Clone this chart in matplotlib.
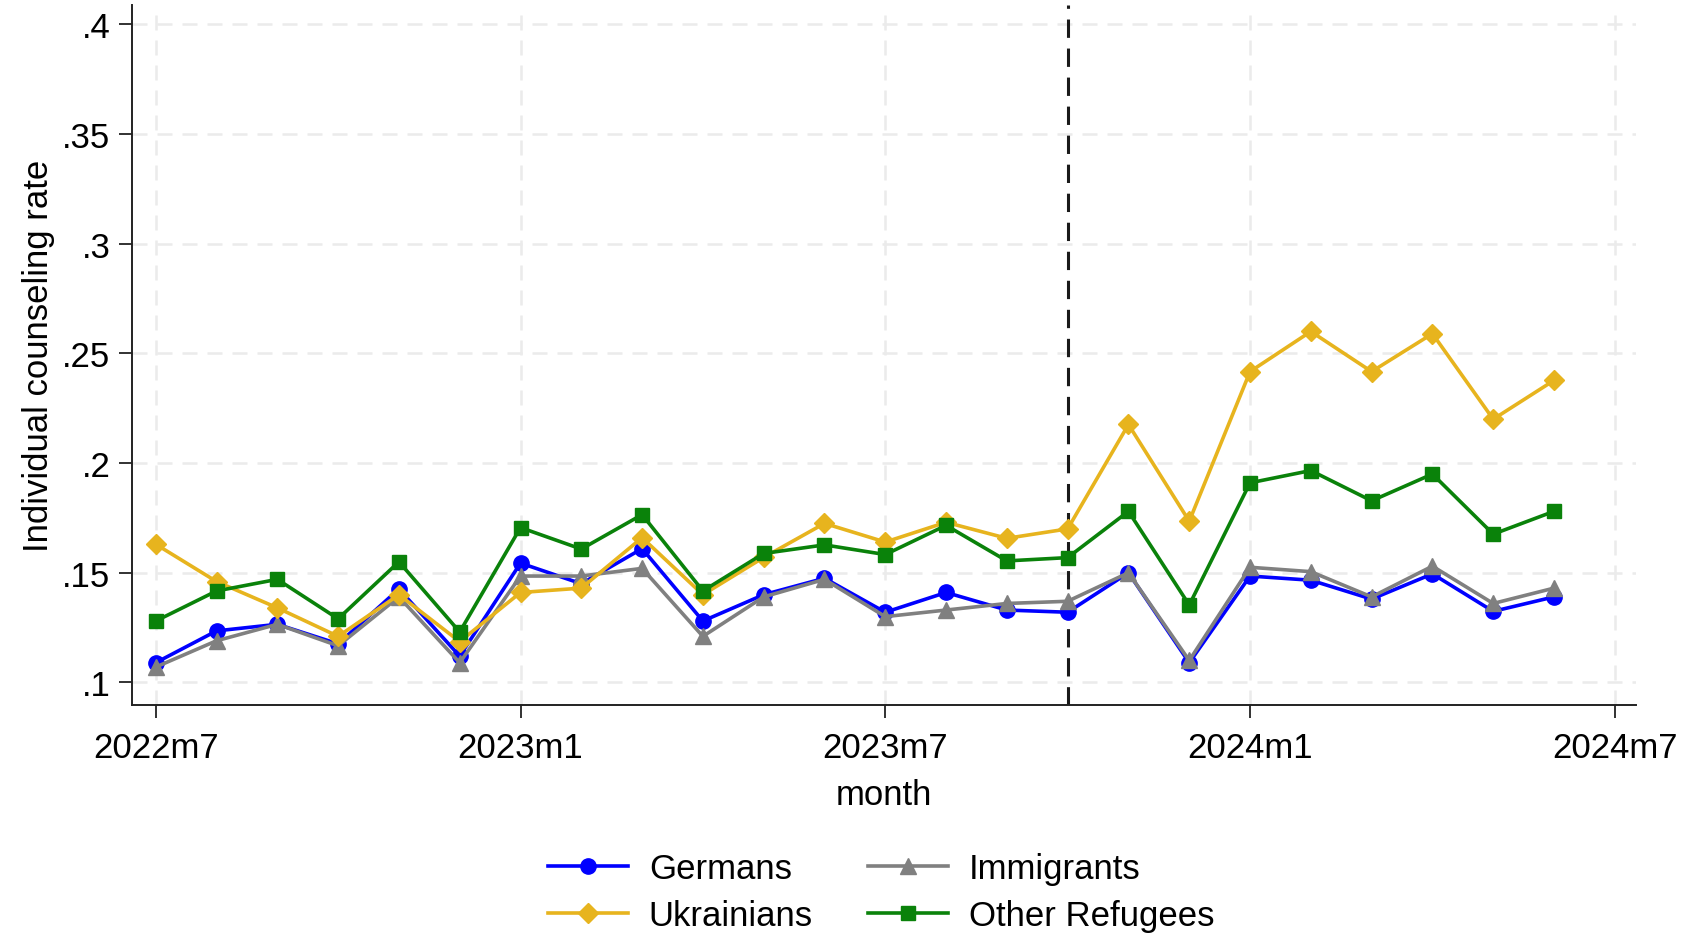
import matplotlib
matplotlib.use("Agg")
import matplotlib.pyplot as plt
from matplotlib.ticker import FuncFormatter

# Monthly individual counseling rates, 2022m7 .. 2024m6
months = list(range(24))
tick_pos = [0, 6, 12, 18, 24]
tick_labels = ["2022m7", "2023m1", "2023m7", "2024m1", "2024m7"]
y_ticks = [0.1, 0.15, 0.2, 0.25, 0.3, 0.35, 0.4]
cutoff_month = 15  # 2023m10

germans = [0.109, 0.1235, 0.1265, 0.1176, 0.1426, 0.112, 0.1544, 0.145,
           0.161, 0.128, 0.140, 0.1475, 0.132, 0.141, 0.133, 0.132,
           0.150, 0.109, 0.1485, 0.1466, 0.138, 0.1495, 0.1324, 0.139]
immigrants = [0.107, 0.119, 0.1265, 0.1167, 0.139, 0.109, 0.1485, 0.1485,
              0.152, 0.121, 0.139, 0.147, 0.130, 0.133, 0.136, 0.137,
              0.150, 0.110, 0.1525, 0.1505, 0.139, 0.153, 0.136, 0.143]
ukrainians = [0.163, 0.146, 0.134, 0.121, 0.140, 0.1186, 0.141, 0.143,
              0.166, 0.140, 0.157, 0.1725, 0.164, 0.173, 0.1657, 0.170,
              0.2176, 0.1735, 0.2417, 0.260, 0.2417, 0.259, 0.220, 0.2377]
other_refugees = [0.128, 0.1417, 0.147, 0.129, 0.155, 0.123, 0.1706, 0.1608,
                  0.1765, 0.1417, 0.1588, 0.1627, 0.1583, 0.1716, 0.1554, 0.1569,
                  0.178, 0.1353, 0.191, 0.1966, 0.1828, 0.195, 0.1676, 0.178]

plt.rcParams["font.family"] = ["Liberation Sans", "DejaVu Sans"]
FS = 25

fig = plt.figure(figsize=(16.82, 9.37), dpi=100)
ax = fig.add_axes([0.0785, 0.2465, 0.8942, 0.7475])

# grid in the Stata style: light dashed lines at every tick
for x in tick_pos:
    ax.axvline(x, color="#ebebeb", lw=1.8, ls=(0, (6, 4)), zorder=0)
for y in y_ticks:
    ax.axhline(y, color="#ebebeb", lw=1.8, ls=(0, (6, 4)), zorder=0)

ax.axvline(cutoff_month, color="#1a1a1a", lw=2.2, ls=(0, (6, 3.5)), zorder=1)

lg, = ax.plot(months, germans, color="#0000ff", lw=2.6, marker="o",
              markersize=11, label="Germans", zorder=2)
li, = ax.plot(months, immigrants, color="#808080", lw=2.6, marker="^",
              markersize=12, label="Immigrants", zorder=3)
lu, = ax.plot(months, ukrainians, color="#e7b41e", lw=2.6, marker="D",
              markersize=10.5, label="Ukrainians", zorder=4)
lo, = ax.plot(months, other_refugees, color="#0a820a", lw=2.6, marker="s",
              markersize=10.5, label="Other Refugees", zorder=5)

ax.set_xlim(-0.39, 24.35)
ax.set_ylim(0.0897, 0.409)
ax.set_xticks(tick_pos)
ax.set_xticklabels(tick_labels)
ax.set_yticks(y_ticks)
ax.yaxis.set_major_formatter(FuncFormatter(lambda v, p: ("%g" % v).lstrip("0")))

ax.tick_params(axis="both", direction="out", length=9.5, width=1.3,
               labelsize=FS, colors="#222222", labelcolor="black", pad=6)
ax.tick_params(axis="x", pad=9)
for side in ("top", "right"):
    ax.spines[side].set_visible(False)
for side in ("left", "bottom"):
    ax.spines[side].set_linewidth(1.4)
    ax.spines[side].set_color("#222222")

ax.set_xlabel("month", fontsize=FS, labelpad=10)
ax.set_ylabel("Individual counseling rate", fontsize=FS, labelpad=5)

fig.legend(handles=[lg, lu, li, lo], ncol=2, loc="center",
           bbox_to_anchor=(0.524, 0.047), frameon=False, fontsize=FS,
           handlelength=2.3, handletextpad=0.6, columnspacing=1.6,
           labelspacing=0.41, borderpad=0)

fig.savefig("out.png", dpi=100)
